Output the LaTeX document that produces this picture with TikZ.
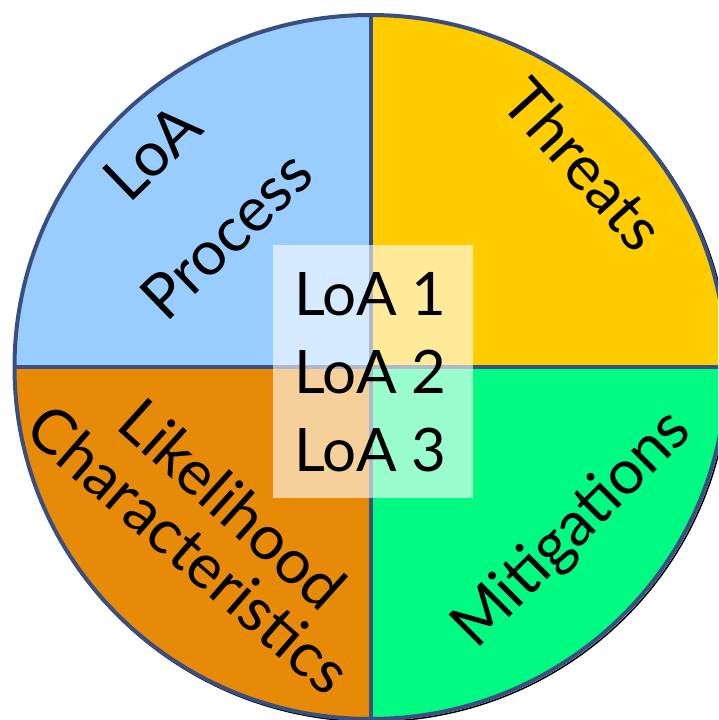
\documentclass[tikz,border=0pt]{standalone}
\usepackage{fontspec}
\setmainfont{Lato}
\definecolor{qblue}{HTML}{99CCFF}
\definecolor{qgold}{HTML}{FFCC00}
\definecolor{qgreen}{HTML}{00FA82}
\definecolor{qorange}{HTML}{E68A07}
\definecolor{rim}{HTML}{3A4F80}
\begin{document}
\begin{tikzpicture}[x=1pt,y=-1pt,
  qlabel/.style={inner sep=0pt,font=\fontsize{62}{62}\selectfont},
  loalabel/.style={inner sep=0pt,anchor=base west,font=\fontsize{60}{60}\selectfont}]
\useasboundingbox (0,0) rectangle (718,720);
\clip (0,0) rectangle (718,720);
\coordinate (C) at (370.5,367);
% shadow
\draw[black,line width=1.5pt] ([shift={(1.5,1.5)}]C) ellipse [x radius=357pt,y radius=353pt];
\begin{scope}
  \clip (C) ellipse [x radius=356pt,y radius=352pt];
  \fill[qblue] (0,0) rectangle (C);
  \fill[qgold] (C) rectangle (740,0);
  \fill[qorange] (C) rectangle (0,740);
  \fill[qgreen] (C) rectangle (740,740);
  \draw[rim,line width=4pt] (C) -- ++(0,-360) (C) -- ++(0,360) (C) -- ++(-360,0) (C) -- ++(360,0);
\end{scope}
\draw[rim,line width=4pt] (C) ellipse [x radius=356pt,y radius=352pt];
% centre box
\fill[white,opacity=0.6] (273,245) rectangle (473,498);
\node[loalabel] (l1) at (294,315) {LoA 1};
\node[loalabel] (l2) at (294,393) {LoA 2};
\node[loalabel] (l3) at (294,471) {LoA 3};
% quadrant labels
\node[qlabel,rotate=44] (loa) at (152,152) {LoA};
\node[qlabel,rotate=44] (proc) at (226,235) {Process};
\node[qlabel,rotate=-48] (thr) at (584,164) {Threats};
\node[qlabel,rotate=45] (mit) at (573,530) {Mitigations};
\node[qlabel,rotate=-42] (lik) at (233,504) {Likelihood};
\node[qlabel,rotate=-41] (cha) at (189,549) {Characteristics};
\end{tikzpicture}
\end{document}
